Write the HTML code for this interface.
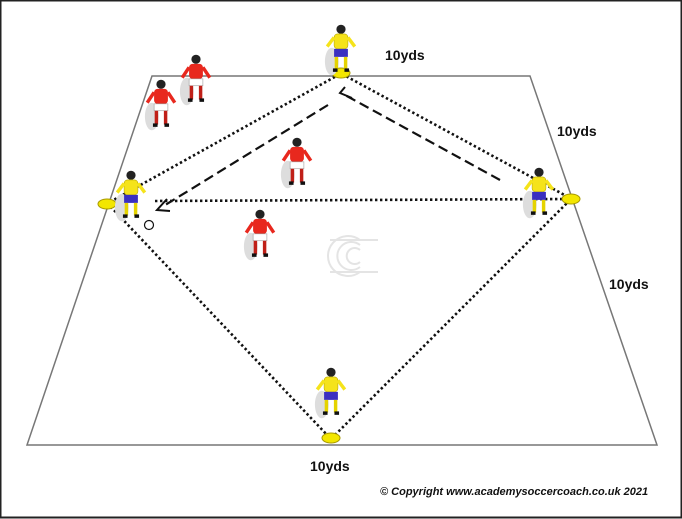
<!DOCTYPE html>
<html><head><style>
html,body{margin:0;padding:0;background:#fff}
svg{display:block}
text{font-family:"Liberation Sans",sans-serif}
</style></head><body>
<svg width="682" height="519" viewBox="0 0 682 519" xmlns="http://www.w3.org/2000/svg">
<rect x="0" y="0" width="682" height="519" fill="#fff"/>
<rect x="0.5" y="0.5" width="681" height="517" fill="none" stroke="#222" stroke-width="2"/>
<polygon points="152,76 530,76 657,445 27,445" fill="none" stroke="#777" stroke-width="1.5"/>
<g fill="none" stroke="#e4e4e4" stroke-width="2">
<path d="M360,240 A20,20 0 1 0 360,272"/><path d="M360,245 A14,14 0 1 0 360,267"/><path d="M360,250 A8,8 0 1 0 360,262"/>
<line x1="330" y1="240" x2="378" y2="240"/><line x1="330" y1="272" x2="378" y2="272"/>
</g>
<g stroke="#111" stroke-width="2.6" stroke-dasharray="2.4,2.6" fill="none">
<line x1="110" y1="202" x2="340" y2="74"/>
<line x1="342" y1="74" x2="570" y2="198"/>
<line x1="570" y1="200" x2="333" y2="437"/>
<line x1="329" y1="437" x2="110" y2="206"/>
<line x1="155" y1="201" x2="568" y2="199"/>
</g>
<g stroke="#111" stroke-width="2.2" stroke-dasharray="10,5" fill="none">
<line x1="328" y1="105" x2="162" y2="207"/>
<line x1="500" y1="180" x2="345" y2="95"/>
</g>
<g stroke="#111" stroke-width="2" fill="none">
<polyline points="167,199 157,210 170,211"/>
<polyline points="345,87 340,93 352,98"/>
</g>
<g fill="#f3e600" stroke="#a89a00" stroke-width="1">
<ellipse cx="107" cy="204" rx="9" ry="5"/><ellipse cx="341" cy="73" rx="9" ry="5"/>
<ellipse cx="571" cy="199" rx="9" ry="5"/><ellipse cx="331" cy="438" rx="9" ry="5"/>
</g>
<circle cx="149" cy="225" r="4.5" fill="#fff" stroke="#111" stroke-width="1.2"/>
<defs>
<g id="red">
<ellipse cx="-8" cy="10" rx="6" ry="12" fill="#ddd"/>
<circle cx="0" cy="-18" r="4" fill="#222"/>
<rect x="-6" y="-14" width="12" height="13" rx="3" fill="#e8281e"/>
<line x1="-6" y1="-11" x2="-12" y2="-2" stroke="#e8281e" stroke-width="3"/>
<line x1="6" y1="-11" x2="12" y2="-2" stroke="#e8281e" stroke-width="3"/>
<rect x="-6" y="-1" width="12" height="6" fill="#fff" stroke="#999" stroke-width=".5"/>
<line x1="-4" y1="5" x2="-4" y2="17" stroke="#c02018" stroke-width="3"/>
<line x1="4" y1="5" x2="4" y2="17" stroke="#c02018" stroke-width="3"/>
<rect x="-7" y="16" width="4" height="3" fill="#111"/><rect x="3" y="16" width="4" height="3" fill="#111"/>
</g>
<g id="yel">
<ellipse cx="-8" cy="10" rx="6" ry="12" fill="#ddd"/>
<circle cx="0" cy="-18" r="4" fill="#222"/>
<rect x="-6" y="-14" width="12" height="13" rx="3" fill="#f5e31a" stroke="#b8a800" stroke-width=".5"/>
<line x1="-6" y1="-11" x2="-12" y2="-3" stroke="#f5e31a" stroke-width="3"/>
<line x1="6" y1="-11" x2="12" y2="-3" stroke="#f5e31a" stroke-width="3"/>
<rect x="-6" y="-1" width="12" height="7" fill="#3a2fc0"/>
<line x1="-4" y1="6" x2="-4" y2="17" stroke="#e5d300" stroke-width="3"/>
<line x1="4" y1="6" x2="4" y2="17" stroke="#e5d300" stroke-width="3"/>
<rect x="-7" y="16" width="4" height="3" fill="#111"/><rect x="3" y="16" width="4" height="3" fill="#111"/>
</g>
</defs>
<use href="#red" transform="translate(196,80) scale(1.15)"/>
<use href="#red" transform="translate(161,105) scale(1.15)"/>
<use href="#red" transform="translate(297,163) scale(1.15)"/>
<use href="#red" transform="translate(260,235) scale(1.15)"/>
<use href="#yel" transform="translate(341,50) scale(1.15)"/>
<use href="#yel" transform="translate(131,196) scale(1.15)"/>
<use href="#yel" transform="translate(539,193) scale(1.15)"/>
<use href="#yel" transform="translate(331,393) scale(1.15)"/>
<g font-weight="bold" font-size="14" fill="#111">
<text x="385" y="60">10yds</text>
<text x="557" y="136">10yds</text>
<text x="609" y="289">10yds</text>
<text x="310" y="471">10yds</text>
</g>
<text x="380" y="495" font-size="11" font-weight="bold" font-style="italic" fill="#111">© Copyright www.academysoccercoach.co.uk 2021</text>
</svg>
</body></html>
